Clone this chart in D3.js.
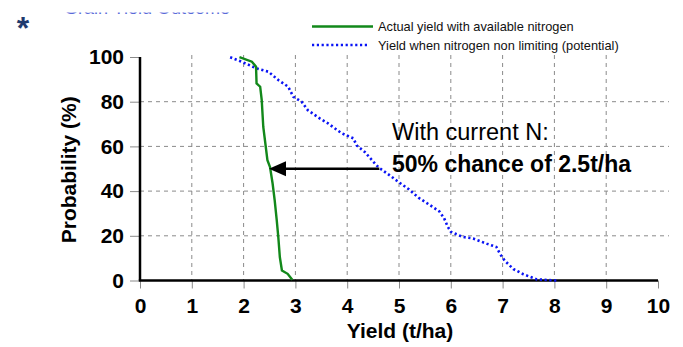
<!DOCTYPE html>
<html>
<head>
<meta charset="utf-8">
<script src="https://cdn.jsdelivr.net/npm/d3@7"></script>
<style>
  html, body { margin: 0; padding: 0; background: #fff; }
  svg { display: block; font-family: "Liberation Sans", Arial, sans-serif; }
</style>
</head>
<body>
<svg id="chart" width="683" height="347"></svg>
<script>
// yield (t/ha) vs probability (%)
const actualYield = [1.92, 2.16, 2.24, 2.25, 2.32, 2.35, 2.38, 2.42, 2.46, 2.51, 2.56, 2.60, 2.64, 2.67, 2.70, 2.74, 2.85, 2.94];
const actualProb  = [99.9, 97.9, 95.7, 88.2, 86.7, 80.7, 68.7, 61.3, 53.8, 50.8, 43.4, 35.9, 26.9, 19.4, 10.4, 4.5, 3.0, 0.3];

const potentialYield = [1.74, 1.96, 2.25, 2.48, 2.67, 2.86, 2.96, 3.12, 3.24, 3.47, 3.63, 3.89, 4.12, 4.18, 4.34, 4.51, 4.60, 4.83, 4.96, 5.19, 5.38, 5.58, 5.78, 5.87, 5.94, 6.00, 6.23, 6.43, 6.69, 6.88, 6.95, 7.04, 7.21, 7.40, 7.66, 8.05];
const potentialProb  = [99.9, 97.9, 94.9, 93.4, 89.7, 86.7, 82.2, 80.0, 76.2, 72.5, 70.3, 65.9, 63.6, 60.5, 57.5, 53.0, 50.7, 46.9, 44.6, 40.8, 37.0, 34.0, 30.9, 27.9, 24.1, 21.8, 19.5, 18.8, 16.5, 15.0, 11.9, 8.9, 5.1, 2.8, 0.5, 0.0];

const xTicks = [0, 1, 2, 3, 4, 5, 6, 7, 8, 9, 10];
const yTicks = [0, 20, 40, 60, 80, 100];
const legendLabels = ["Actual yield with available nitrogen", "Yield when nitrogen non limiting (potential)"];
const arrowFrom = [4.62, 50];
const arrowTo = [2.49, 50];

const svg = d3.select("#chart");
const x = d3.scaleLinear().domain([0, 10]).range([140, 658]);
const y = d3.scaleLinear().domain([0, 100]).range([280.5, 57]);

// faded title at the very top, mostly cut off
svg.append("text")
    .attr("x", 64).attr("y", 14)
    .attr("font-size", 18)
    .attr("fill", "#5a6ad8")
    .text("Grain Yield Outcome");
svg.append("rect").attr("x", 0).attr("y", 0).attr("width", 683).attr("height", 12.5).attr("fill", "#fff");

svg.append("text")
    .attr("x", 23).attr("y", 39)
    .attr("text-anchor", "middle")
    .attr("font-size", 32).attr("font-weight", "bold")
    .attr("fill", "#1f3a6e")
    .text("*");

// grid
svg.append("g").selectAll("line")
    .data(xTicks.slice(1, -1))
    .join("line")
    .attr("x1", d => x(d)).attr("x2", d => x(d))
    .attr("y1", 55).attr("y2", y(0))
    .attr("stroke", "#8a8a8a").attr("stroke-dasharray", "4,4");
svg.append("g").selectAll("line")
    .data(yTicks.slice(1, -1))
    .join("line")
    .attr("x1", x(0)).attr("x2", 669)
    .attr("y1", d => y(d)).attr("y2", d => y(d))
    .attr("stroke", "#8a8a8a").attr("stroke-dasharray", "4,4");

// axes
const xAxis = svg.append("g")
    .attr("transform", `translate(0,${y(0)})`)
    .call(d3.axisBottom(x).tickValues(xTicks).tickSize(8).tickPadding(10).tickFormat(d3.format("d")));
const yAxis = svg.append("g")
    .attr("transform", `translate(${x(0)},0)`)
    .call(d3.axisLeft(y).tickValues(yTicks).tickSize(10).tickPadding(6).tickFormat(d3.format("d")));
[xAxis, yAxis].forEach(g => {
    g.select(".domain").remove();
    g.selectAll(".tick line").attr("stroke", "#8a8a8a");
    g.selectAll(".tick text")
        .attr("font-family", "Liberation Sans, Arial, sans-serif")
        .attr("font-size", 21).attr("font-weight", "bold").attr("fill", "#000");
});
svg.append("line")
    .attr("x1", x(0)).attr("x2", x(0)).attr("y1", y(100)).attr("y2", y(0))
    .attr("stroke", "#000").attr("stroke-width", 2.5);
svg.append("line")
    .attr("x1", x(0) - 1.2).attr("x2", x(10)).attr("y1", y(0)).attr("y2", y(0))
    .attr("stroke", "#000").attr("stroke-width", 2.5);

svg.append("text")
    .attr("transform", `translate(76,${y(50) + 1}) rotate(-90)`)
    .attr("text-anchor", "middle")
    .attr("font-size", 21).attr("font-weight", "bold")
    .text("Probability (%)");
svg.append("text")
    .attr("x", 400).attr("y", 338)
    .attr("text-anchor", "middle")
    .attr("font-size", 21).attr("font-weight", "bold")
    .text("Yield (t/ha)");

// series
const line = d3.line().x(d => x(d[0])).y(d => y(d[1]));
svg.append("path")
    .datum(d3.zip(potentialYield, potentialProb))
    .attr("d", line)
    .attr("fill", "none").attr("stroke", "#0a14f5")
    .attr("stroke-width", 2.6).attr("stroke-dasharray", "2.2,2.6");
svg.append("path")
    .datum(d3.zip(actualYield, actualProb))
    .attr("d", line)
    .attr("fill", "none").attr("stroke", "#12881a")
    .attr("stroke-width", 2.4);

// annotation arrow
svg.append("line")
    .attr("x1", x(arrowFrom[0])).attr("x2", x(arrowTo[0]) + 14)
    .attr("y1", y(arrowFrom[1])).attr("y2", y(arrowTo[1]))
    .attr("stroke", "#000").attr("stroke-width", 2.6);
const tipX = x(arrowTo[0]), tipY = y(arrowTo[1]);
svg.append("path")
    .attr("d", `M${tipX},${tipY} L${tipX + 17},${tipY - 7.5} L${tipX + 17},${tipY + 7.5} Z`)
    .attr("fill", "#000");

svg.append("text")
    .attr("x", 392).attr("y", 140)
    .attr("font-size", 23.5)
    .text("With current N:");
svg.append("text")
    .attr("x", 392).attr("y", 172)
    .attr("font-size", 23).attr("font-weight", "bold")
    .text("50% chance of 2.5t/ha");

// legend
const legend = svg.append("g");
legend.append("line")
    .attr("x1", 312).attr("x2", 373).attr("y1", 26.5).attr("y2", 26.5)
    .attr("stroke", "#12881a").attr("stroke-width", 2.4);
legend.append("line")
    .attr("x1", 312).attr("x2", 369).attr("y1", 45).attr("y2", 45)
    .attr("stroke", "#0a14f5").attr("stroke-width", 2.6).attr("stroke-dasharray", "2.2,2.6");
legend.selectAll("text")
    .data(legendLabels)
    .join("text")
    .attr("x", 378).attr("y", (d, i) => 31 + i * 18.5)
    .attr("font-size", 12.8).attr("fill", "#111")
    .text(d => d);
</script>
</body>
</html>
